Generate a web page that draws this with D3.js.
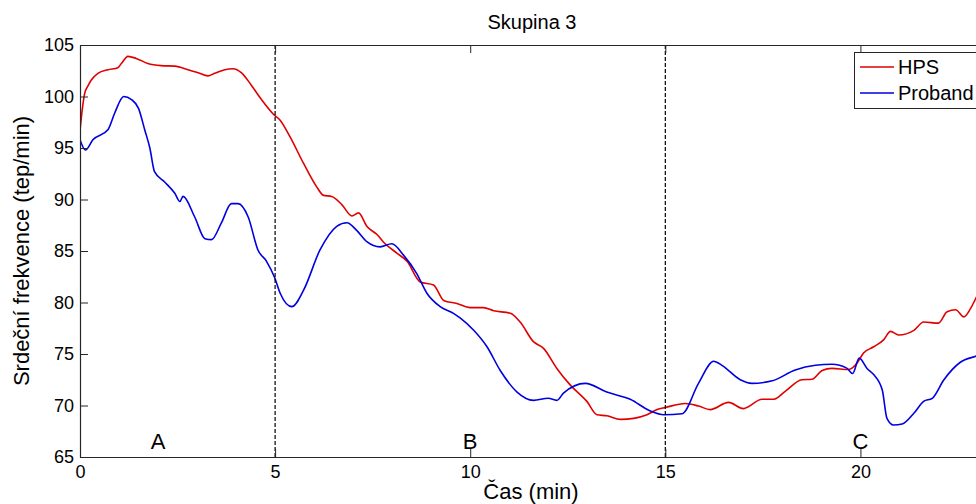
<!DOCTYPE html>
<html>
<head>
<meta charset="utf-8">
<script src="https://cdn.jsdelivr.net/npm/d3@7"></script>
<style>
  html, body { margin: 0; padding: 0; background: #fff; }
  svg { display: block; font-family: "Liberation Sans", Arial, Helvetica, sans-serif; }
</style>
</head>
<body>
<svg id="chart" width="976" height="504"></svg>
<script>
// ---- data ----
const title = "Skupina 3";
const xLabel = "Čas (min)";
const yLabel = "Srdeční frekvence (tep/min)";
const seriesNames = ["HPS", "Proband"];
const xTicks = [0, 5, 10, 15, 20];
const yTicks = [65, 70, 75, 80, 85, 90, 95, 100, 105];
const phaseLines = [5, 15];
const phaseLabels = ["A", "B", "C"];
const phaseLabelX = [2, 10, 20];

const hpsTime = [0, 0.06, 0.12, 0.2, 0.29, 0.46, 0.72, 0.97, 1.06, 1.23, 1.44, 1.74, 2.08, 2.43, 2.77, 3.03, 3.28, 3.45, 3.71, 3.92, 4.14, 4.39, 4.65, 4.95, 5.13, 5.38, 5.73, 6.07, 6.24, 6.45, 6.71, 6.97, 7.14, 7.35, 7.61, 7.82, 8.12, 8.38, 8.72, 9.06, 9.32, 9.66, 10.0, 10.34, 10.6, 11.03, 11.28, 11.62, 11.88, 12.22, 12.56, 12.99, 13.25, 13.5, 13.85, 14.19, 14.53, 14.79, 15.0, 15.51, 15.85, 16.15, 16.62, 17.0, 17.48, 17.78, 18.08, 18.5, 18.76, 19.02, 19.27, 19.7, 19.91, 20.08, 20.34, 20.6, 20.77, 20.98, 21.37, 21.62, 22.0, 22.22, 22.44, 22.65, 22.82, 22.97, 23.2, 23.5];
const hpsValues = [96.7, 98.8, 100.3, 101.0, 101.6, 102.25, 102.6, 102.8, 103.2, 103.9, 103.7, 103.2, 103.0, 102.95, 102.6, 102.3, 102.0, 102.25, 102.6, 102.7, 102.3, 101.1, 99.7, 98.3, 97.7, 96.1, 93.5, 91.2, 90.4, 90.3, 89.5, 88.4, 88.7, 87.4, 86.6, 85.7, 84.8, 84.0, 82.0, 81.7, 80.2, 79.9, 79.5, 79.5, 79.2, 78.95, 78.1, 76.2, 75.55, 73.6, 72.0, 70.4, 69.1, 69.0, 68.65, 68.75, 69.1, 69.6, 69.8, 70.2, 69.95, 69.6, 70.3, 69.7, 70.6, 70.6, 71.4, 72.5, 72.55, 73.4, 73.6, 73.5, 74.1, 75.1, 75.7, 76.4, 77.2, 76.85, 77.3, 78.1, 78.0, 79.1, 79.3, 78.6, 79.4, 80.5, 82.0, 83.5];

const probandTime = [0, 0.14, 0.33, 0.72, 0.89, 1.12, 1.32, 1.5, 1.66, 1.79, 1.91, 2.17, 2.43, 2.56, 2.64, 2.94, 3.2, 3.37, 3.62, 3.88, 4.05, 4.31, 4.56, 4.78, 4.99, 5.13, 5.43, 5.73, 6.15, 6.58, 6.84, 7.09, 7.35, 7.69, 7.99, 8.29, 8.63, 8.89, 9.23, 9.57, 9.74, 10.09, 10.43, 10.77, 11.2, 11.62, 12.0, 12.22, 12.39, 12.95, 13.5, 14.1, 14.6, 14.96, 15.43, 15.85, 16.24, 16.45, 16.92, 17.22, 17.74, 18.33, 18.85, 19.27, 19.66, 19.8, 19.97, 20.17, 20.34, 20.56, 20.68, 20.85, 21.07, 21.37, 21.62, 21.84, 22.14, 22.56, 22.97, 23.5];
const probandValues = [95.8, 94.8, 95.8, 96.8, 98.4, 100.0, 99.7, 98.85, 96.75, 95.0, 92.7, 91.7, 90.6, 89.8, 90.3, 88.3, 86.2, 86.1, 87.7, 89.6, 89.6, 88.3, 85.1, 84.0, 82.4, 80.9, 79.6, 81.2, 85.1, 87.4, 87.75, 87.0, 85.9, 85.4, 85.7, 84.6, 82.8, 80.9, 79.6, 78.95, 78.5, 77.3, 75.7, 73.4, 71.3, 70.5, 70.7, 70.5, 71.2, 72.15, 71.3, 70.6, 69.5, 69.1, 69.2, 72.15, 74.3, 73.9, 72.5, 72.15, 72.4, 73.45, 73.9, 74.0, 73.6, 73.1, 74.6, 73.6, 73.0, 71.5, 68.75, 68.1, 68.2, 69.25, 70.4, 70.7, 72.5, 74.2, 74.8, 75.5];

const seriesColors = ["#e00000", "#0000e0"];

// ---- layout ----
const plot = { left: 80, top: 45, right: 997, bottom: 457 };
const svg = d3.select("#chart");

const x = d3.scaleLinear().domain([0, 23.5]).range([plot.left, plot.right]);
const y = d3.scaleLinear().domain([65, 105]).range([plot.bottom, plot.top]);

const axisColor = "#262626";
const tickLen = 8;

// clip
svg.append("defs").append("clipPath").attr("id", "clip")
  .append("rect").attr("x", plot.left).attr("y", plot.top)
  .attr("width", plot.right - plot.left).attr("height", plot.bottom - plot.top);

// series
const series = [
  { name: seriesNames[0], t: hpsTime, v: hpsValues, color: seriesColors[0] },
  { name: seriesNames[1], t: probandTime, v: probandValues, color: seriesColors[1] }
];
const line = d3.line().x(d => x(d[0])).y(d => y(d[1])).curve(d3.curveMonotoneX);
const gLines = svg.append("g").attr("clip-path", "url(#clip)");
series.forEach(s => {
  gLines.append("path")
    .datum(s.t.map((t, i) => [t, s.v[i]]))
    .attr("fill", "none")
    .attr("stroke", s.color)
    .attr("stroke-width", 1.6)
    .attr("stroke-linejoin", "round")
    .attr("d", line);
});

// phase dashed lines
svg.append("g").selectAll("line").data(phaseLines).join("line")
  .attr("x1", d => x(d)).attr("x2", d => x(d))
  .attr("y1", plot.top).attr("y2", plot.bottom)
  .attr("stroke", "#000").attr("stroke-width", 1.2)
  .attr("stroke-dasharray", "4,2");

// axes
const fs = 18;
const gxBottom = svg.append("g").attr("transform", `translate(0,${plot.bottom})`)
  .call(d3.axisBottom(x).tickValues(xTicks).tickSizeInner(-tickLen).tickSizeOuter(0).tickPadding(10).tickFormat(d3.format("d")));
const gxTop = svg.append("g").attr("transform", `translate(0,${plot.top})`)
  .call(d3.axisTop(x).tickValues(xTicks).tickSizeInner(-tickLen).tickSizeOuter(0).tickFormat(""));
const gyLeft = svg.append("g").attr("transform", `translate(${plot.left},0)`)
  .call(d3.axisLeft(y).tickValues(yTicks).tickSizeInner(-tickLen).tickSizeOuter(0).tickPadding(6).tickFormat(d3.format("d")));
const gyRight = svg.append("g").attr("transform", `translate(${plot.right},0)`)
  .call(d3.axisRight(y).tickValues(yTicks).tickSizeInner(-tickLen).tickSizeOuter(0).tickFormat(""));

[gxBottom, gxTop, gyLeft, gyRight].forEach(g => {
  g.select(".domain").attr("stroke", axisColor).attr("stroke-width", 1.2);
  g.selectAll(".tick line").attr("stroke", axisColor).attr("stroke-width", 1);
  g.selectAll(".tick text").attr("fill", "#000").style("font-size", fs + "px")
    .style("font-family", "'Liberation Sans', Arial, sans-serif");
});
gxBottom.selectAll(".tick text").attr("dy", "0.71em").attr("y", 8);
gyLeft.selectAll(".tick text").attr("x", -6);

// phase labels
svg.append("g").selectAll("text").data(phaseLabels).join("text")
  .attr("x", (d, i) => x(phaseLabelX[i]))
  .attr("y", 449)
  .attr("text-anchor", "middle")
  .style("font-size", "22px")
  .attr("fill", "#000")
  .text(d => d);

// title
svg.append("text").attr("x", 532).attr("y", 29)
  .attr("text-anchor", "middle").style("font-size", "20px").attr("fill", "#000")
  .text(title);

// x label
svg.append("text").attr("x", 531).attr("y", 499)
  .attr("text-anchor", "middle").style("font-size", "22px").attr("fill", "#000")
  .text(xLabel);

// y label
svg.append("text")
  .attr("transform", `translate(29,${(plot.top + plot.bottom) / 2}) rotate(-90)`)
  .attr("text-anchor", "middle").style("font-size", "22px").attr("fill", "#000")
  .text(yLabel);

// legend
const leg = svg.append("g");
leg.append("rect").attr("x", 854.5).attr("y", 52.5).attr("width", 135).attr("height", 56)
  .attr("fill", "#fff").attr("stroke", axisColor).attr("stroke-width", 1);
series.forEach((s, i) => {
  const cy = 67 + i * 26;
  leg.append("line").attr("x1", 860).attr("x2", 894).attr("y1", cy).attr("y2", cy)
    .attr("stroke", s.color).attr("stroke-width", 1.6);
  leg.append("text").attr("x", 898).attr("y", cy).attr("dy", "0.35em")
    .style("font-size", "20px").attr("fill", "#000").text(s.name);
});
</script>
</body>
</html>
